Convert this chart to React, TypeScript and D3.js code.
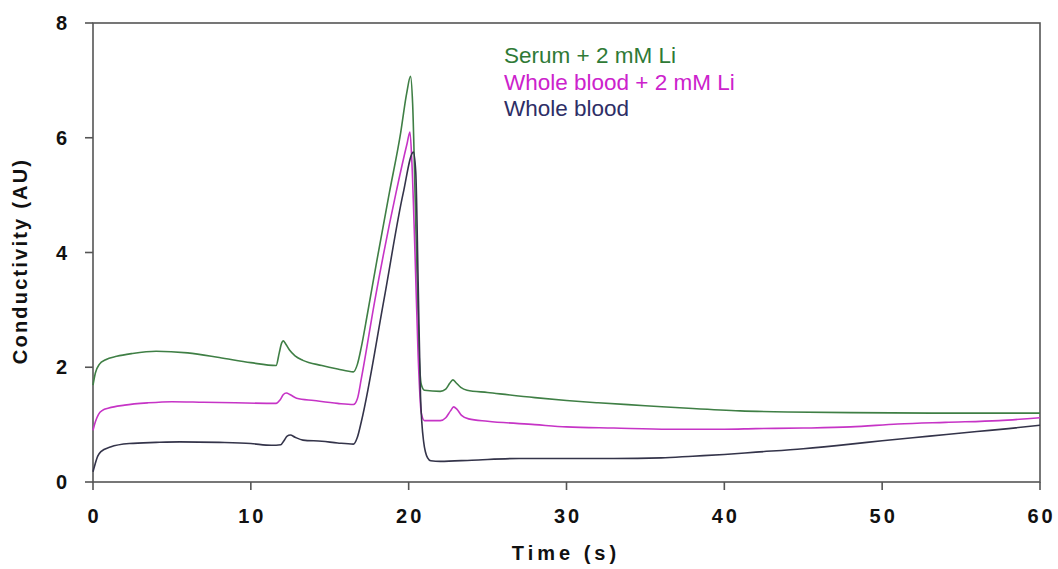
import React from "react";
import * as d3 from "d3";

// Time axis (s) and conductivity (AU) traces for the three samples
const serumT = [0, 0.15, 0.4, 0.8, 1.5, 2.5, 4, 6, 8, 10, 11.6, 11.8, 11.95, 12.05, 12.2, 12.45, 12.8, 13.3, 14.5, 15.5, 16.5, 16.75, 17.0, 17.4, 18.0, 18.77, 19.5, 19.87, 20.12, 20.25, 20.45, 20.65, 20.8, 21.0, 22.0, 22.35, 22.6, 22.8, 23.0, 23.3, 23.7, 25, 28, 30, 32, 35, 38, 41, 44, 48, 54, 60];
const serumV = [1.69, 1.9, 2.05, 2.13, 2.19, 2.24, 2.28, 2.25, 2.17, 2.08, 2.03, 2.25, 2.42, 2.46, 2.41, 2.3, 2.2, 2.12, 2.03, 1.97, 1.92, 2.05, 2.35, 2.95, 3.88, 5.03, 6.1, 6.77, 7.07, 6.6, 4.5, 2.3, 1.7, 1.6, 1.58, 1.62, 1.72, 1.78, 1.73, 1.65, 1.6, 1.56, 1.47, 1.42, 1.38, 1.33, 1.28, 1.24, 1.22, 1.21, 1.2, 1.2];

const bloodLiT = [0, 0.15, 0.35, 0.6, 1.0, 2, 3.5, 5, 7, 9, 11.6, 11.85, 12.05, 12.25, 12.5, 12.9, 14, 15.5, 16.5, 16.75, 17.0, 17.86, 19.19, 19.9, 20.08, 20.2, 20.4, 20.6, 20.8, 21.0, 22.0, 22.35, 22.65, 22.85, 23.05, 23.35, 23.8, 25, 28, 30, 33, 36.5, 40, 42, 45, 48, 51, 54, 57.4, 60];
const bloodLiV = [0.9, 1.05, 1.18, 1.25, 1.29, 1.34, 1.38, 1.4, 1.39, 1.38, 1.37, 1.43, 1.52, 1.55, 1.52, 1.46, 1.42, 1.37, 1.35, 1.45, 1.8, 3.17, 5.03, 5.9, 6.1, 5.6, 4.0, 2.2, 1.2, 1.07, 1.07, 1.12, 1.24, 1.31, 1.27, 1.16, 1.1, 1.06, 1.0, 0.96, 0.94, 0.92, 0.92, 0.93, 0.94, 0.96, 1.01, 1.04, 1.07, 1.12];

const bloodT = [0, 0.1, 0.3, 0.5, 1.1, 2.3, 4, 5.5, 8, 10, 11.3, 11.9, 12.1, 12.3, 12.5, 12.8, 13.3, 14.5, 15.5, 16.5, 16.75, 17.0, 18.43, 19.65, 20.3, 20.45, 20.6, 20.75, 20.95, 21.2, 21.4, 22, 24, 27, 30, 33, 36, 38, 40, 42, 45, 48, 50, 53, 56, 58, 60];
const bloodV = [0.18, 0.28, 0.45, 0.53, 0.61, 0.67, 0.69, 0.7, 0.69, 0.67, 0.64, 0.65, 0.72, 0.8, 0.82, 0.78, 0.73, 0.71, 0.68, 0.66, 0.78, 1.05, 3.17, 5.03, 5.75, 5.4, 3.5, 1.5, 0.7, 0.42, 0.37, 0.36, 0.38, 0.41, 0.41, 0.41, 0.42, 0.45, 0.48, 0.52, 0.58, 0.66, 0.72, 0.8, 0.88, 0.93, 0.99];

const legendLabels = ["Serum + 2 mM Li", "Whole blood + 2 mM Li", "Whole blood"];
const xTicks = [0, 10, 20, 30, 40, 50, 60];
const yTicks = [0, 2, 4, 6, 8];

const W = 1058;
const H = 569;
const FONT = "'Liberation Sans', Arial, Helvetica, sans-serif";

const series = [
  { t: serumT, v: serumV, stroke: "#3f7f45", text: "#2f7a36" },
  { t: bloodLiT, v: bloodLiV, stroke: "#c634c6", text: "#cc22cc" },
  { t: bloodT, v: bloodV, stroke: "#34344a", text: "#2e2e66" },
];

export default function App() {
  const x = d3.scaleLinear().domain([0, 60]).range([93, 1040]);
  const y = d3.scaleLinear().domain([0, 8]).range([482, 23]);

  const line = d3
    .line<[number, number]>()
    .x((d) => x(d[0]))
    .y((d) => y(d[1]))
    .curve(d3.curveMonotoneX);

  const axisColor = "#555";

  return (
    <svg
      width={W}
      height={H}
      style={{ position: "absolute", left: 0, top: 0, background: "#fff" }}
      fontFamily={FONT}
    >
      {/* plot frame */}
      <rect x={x(0)} y={y(8)} width={x(60) - x(0)} height={y(0) - y(8)} fill="none" stroke={axisColor} strokeWidth={1.6} />

      {/* y axis ticks and labels */}
      {yTicks.map((t) => (
        <g key={"y" + t}>
          <line x1={x(0) - 8} x2={x(0)} y1={y(t)} y2={y(t)} stroke={axisColor} strokeWidth={1.6} />
          <text x={67} y={y(t)} dy="0.36em" textAnchor="end" fontSize={20} fontWeight="bold" fill="#111">
            {t}
          </text>
        </g>
      ))}

      {/* x axis ticks and labels */}
      {xTicks.map((t) => (
        <g key={"x" + t}>
          <line x1={x(t)} x2={x(t)} y1={y(0)} y2={y(0) + 8} stroke={axisColor} strokeWidth={1.6} />
          <text x={x(t) + 1.5} y={523} textAnchor="middle" fontSize={20} fontWeight="bold" letterSpacing={3} fill="#111">
            {t}
          </text>
        </g>
      ))}

      {/* axis titles */}
      <text x={566} y={560} textAnchor="middle" fontSize={20} fontWeight="bold" letterSpacing={4} fill="#111">
        Time (s)
      </text>
      <text
        transform={`translate(27,261) rotate(-90)`}
        textAnchor="middle"
        fontSize={20}
        fontWeight="bold"
        letterSpacing={2.2}
        fill="#111"
      >
        Conductivity (AU)
      </text>

      {/* traces */}
      {series.map((s, i) => (
        <path
          key={"s" + i}
          d={line(s.t.map((t, j) => [t, s.v[j]] as [number, number])) || ""}
          fill="none"
          stroke={s.stroke}
          strokeWidth={1.6}
          strokeLinejoin="round"
        />
      ))}

      {/* legend */}
      {legendLabels.map((l, i) => (
        <text key={"l" + i} x={504} y={63 + i * 26.7} fontSize={22.5} fill={series[i].text}>
          {l}
        </text>
      ))}
    </svg>
  );
}
